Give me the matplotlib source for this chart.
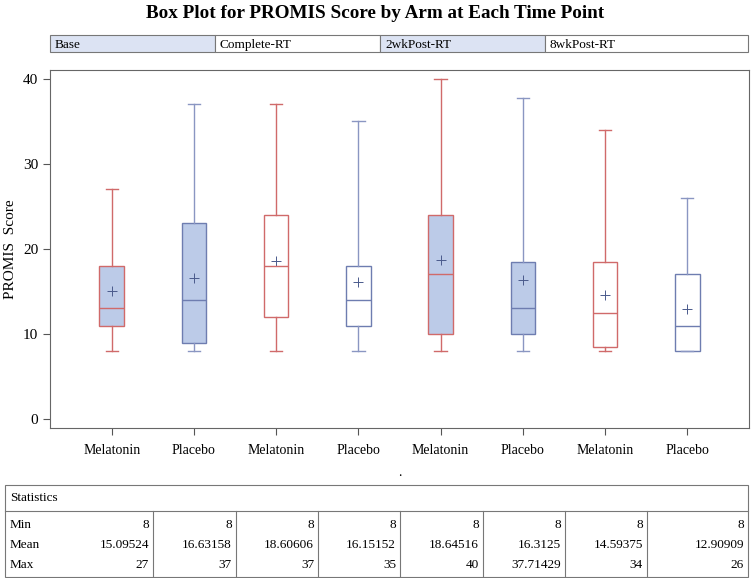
import matplotlib.pyplot as plt
from matplotlib.patches import Rectangle
from matplotlib.lines import Line2D

plt.rcParams['font.family'] = ['Liberation Serif', 'DejaVu Serif']

# 資料
arms = ["Melatonin", "Placebo", "Melatonin", "Placebo", "Melatonin", "Placebo", "Melatonin", "Placebo"]
time_points = ["Base", "Complete-RT", "2wkPost-RT", "8wkPost-RT"]
mins = [8, 8, 8, 8, 8, 8, 8, 8]
q1s = [11, 9, 12, 11, 10, 10, 8.5, 8]
medians = [13, 14, 18, 14, 17, 13, 12.5, 11]
q3s = [18, 23, 24, 18, 24, 18.5, 18.5, 17]
maxs = [27, 37, 37, 35, 40, 37.71429, 34, 26]
means = [15.09524, 16.63158, 18.60606, 16.15152, 18.64516, 16.3125, 14.59375, 12.90909]
mean_labels = ["15.09524", "16.63158", "18.60606", "16.15152", "18.64516", "16.3125", "14.59375", "12.90909"]
max_labels = ["27", "37", "37", "35", "40", "37.71429", "34", "26"]

red = "#d06a6a"
blue = "#6e7db0"
blue_whisker = "#8a96c2"
fill = "#bccbe8"
mean_col = "#4a5a8c"

fig = plt.figure(figsize=(7.51, 5.78), dpi=100)
W, H = 751, 578

def fx(px):
    return px / W

def fy(py):
    return 1 - py / H

# === 盒鬚圖 ===
ax = fig.add_axes([fx(50), fy(427.7), fx(699), 357.7 / H])
stats = []
for i in range(8):
    stats.append({"med": medians[i], "q1": q1s[i], "q3": q3s[i],
                  "whislo": mins[i], "whishi": maxs[i], "fliers": []})
bp = ax.bxp(stats, positions=range(8), widths=0.3, patch_artist=True,
            showfliers=False, manage_ticks=False)
for i in range(8):
    col = red if arms[i] == "Melatonin" else blue
    wcol = red if arms[i] == "Melatonin" else blue_whisker
    filled = i in (0, 1, 4, 5)
    bp["boxes"][i].set_facecolor(fill if filled else "white")
    bp["boxes"][i].set_edgecolor(col)
    bp["boxes"][i].set_linewidth(1)
    bp["medians"][i].set_color(col)
    bp["medians"][i].set_linewidth(1)
    for w in bp["whiskers"][2 * i:2 * i + 2] + bp["caps"][2 * i:2 * i + 2]:
        w.set_color(wcol)
        w.set_linewidth(1)
ax.plot(range(8), means, linestyle="none", marker="+", markersize=7,
        color=mean_col, markeredgewidth=0.7)

ax.set_xlim(-0.75, 7.75)
ax.set_ylim(-1, 41)
ax.set_xticks(range(8))
ax.set_xticklabels(arms, fontsize=10)
ax.set_yticks([0, 10, 20, 30, 40])
ax.tick_params(axis="y", labelsize=11, color="#555555", length=5)
ax.tick_params(axis="x", color="#555555", length=5, pad=7)
ax.set_ylabel("PROMIS  Score", fontsize=11)
ax.set_xlabel(".", fontsize=10, labelpad=6)
for s in ax.spines.values():
    s.set_color("#666666")

# === 標題 ===
fig.text(0.5, fy(14), "Box Plot for PROMIS Score by Arm at Each Time Point",
         ha="center", va="center", fontsize=13.8, fontweight="bold")

# === 時間點標題列 ===
cell_x = [50, 215, 380, 545, 748]
for k, tp in enumerate(time_points):
    x0, x1 = cell_x[k], cell_x[k + 1]
    fig.patches.append(Rectangle((fx(x0), fy(52)), fx(x1 - x0), 17 / H,
                                 transform=fig.transFigure,
                                 facecolor="#dce3f3" if k % 2 == 0 else "white",
                                 edgecolor="#777777", linewidth=0.8))
    fig.text(fx(x0 + 5), fy(45), tp, ha="left", va="center", fontsize=9.5)

# === 統計表 ===
fig.patches.append(Rectangle((fx(5), fy(577)), fx(743), 92 / H,
                             transform=fig.transFigure, facecolor="none",
                             edgecolor="#777777", linewidth=0.8))
fig.lines.append(Line2D([fx(5), fx(748)], [fy(511), fy(511)],
                        transform=fig.transFigure, color="#777777", linewidth=0.8))
fig.text(fx(10), fy(498), "Statistics", ha="left", va="center", fontsize=9.5)
col_edges = [153, 236, 318, 400, 483, 565, 647, 748]
for e in col_edges[:-1]:
    fig.lines.append(Line2D([fx(e), fx(e)], [fy(511), fy(577)],
                            transform=fig.transFigure, color="#777777", linewidth=0.8))
rows = [("Min", [str(v) for v in mins], 525), ("Mean", mean_labels, 545), ("Max", max_labels, 565)]
for label, vals, yy in rows:
    fig.text(fx(10), fy(yy), label, ha="left", va="center", fontsize=9.5)
    for k, v in enumerate(vals):
        fig.text(fx(col_edges[k] - 4), fy(yy), v, ha="right", va="center", fontsize=9.5)

fig.savefig("out.png", dpi=100)
